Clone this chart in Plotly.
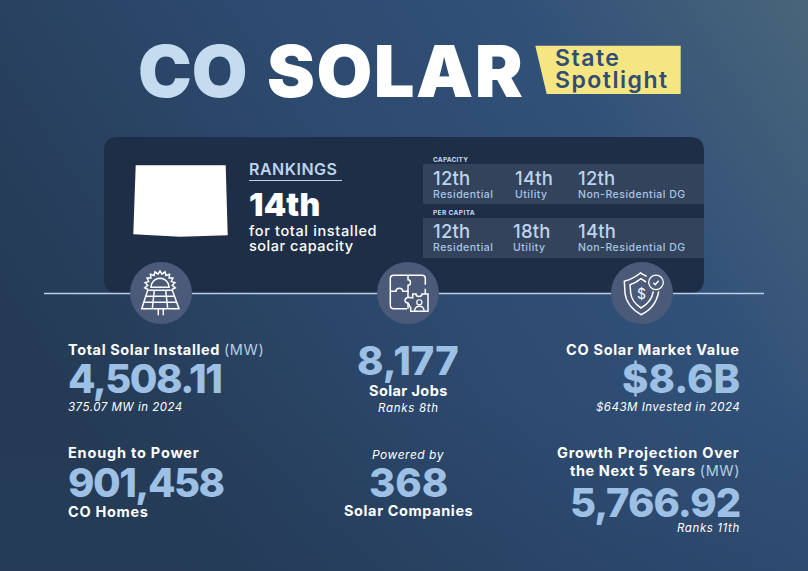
import base64
import math
import re
import plotly.graph_objects as go

FONT = "Inter"

title_words = ["CO", "SOLAR"]
badge_lines = ["State", "Spotlight"]

overall_rank = "14th"
overall_lines = ["for total installed", "solar capacity"]

rank_groups = ["CAPACITY", "PER CAPITA"]
rank_sectors = ["Residential", "Utility", "Non-Residential DG"]
capacity_ranks = ["12th", "14th", "12th"]
per_capita_ranks = ["12th", "18th", "14th"]

installed_mw = "4,508.11"
installed_2024 = "375.07 MW in 2024"
homes_powered = "901,458"
solar_jobs = "8,177"
jobs_rank = "Ranks 8th"
companies = "368"
market_value = "$8.6B"
invested_2024 = "$643M Invested in 2024"
projection_mw = "5,766.92"
projection_rank = "Ranks 11th"

NAVY = "#1f2e47"
ROW = "#33435c"
BADGE = "#f5e583"
BADGE_TEXT = "#2f4d75"
PALE = "#c5dbf0"
RANK_BLUE = "#bcd4ec"
VALUE_BLUE = "#9dc0e4"
CIRCLE = "#4a5a78"
MW = '<span style="font-weight:400;fill:#b9cde3">(MW)</span>'

# background is two stacked svg gradients, stretched over the whole page
bg_svg = """<svg xmlns="http://www.w3.org/2000/svg" width="808" height="571">
<defs>
<linearGradient id="a" x1="0" y1="0.5" x2="1" y2="0.05">
<stop offset="0" stop-color="#253b55"/><stop offset="0.45" stop-color="#2d4a70"/>
<stop offset="0.72" stop-color="#325178"/><stop offset="1" stop-color="#47647a"/>
</linearGradient>
<linearGradient id="b" x1="0.5" y1="0.7" x2="0.5" y2="1">
<stop offset="0" stop-color="#233a5a" stop-opacity="0"/><stop offset="1" stop-color="#233a5a" stop-opacity="0.25"/>
</linearGradient>
</defs>
<rect width="808" height="571" fill="url(#a)"/><rect width="808" height="571" fill="url(#b)"/>
</svg>"""
bg_uri = "data:image/svg+xml;base64," + base64.b64encode(bg_svg.encode()).decode()

fig = go.Figure()


def label(x, y, text, size, color="white", weight=700, anchor="left", style="normal", track=0):
    # Inter runs narrower than the original face, track tweaks each string to the right width
    if track:
        text = f'<span style="letter-spacing:{track}px">{text}</span>'
    nudge = {"left": -1, "right": 1, "center": 0}[anchor]
    fig.add_annotation(x=x + nudge, y=y, text=text, showarrow=False, xanchor=anchor, yanchor="middle",
                       align=anchor, borderpad=0,
                       font=dict(family=FONT, size=size, color=color, weight=weight, style=style))


def shape_path(d, fill="rgba(0,0,0,0)", line="white", width=1.5):
    fig.add_shape(type="path", path=d, xref="x", yref="y", fillcolor=fill,
                  line=dict(color=line, width=width))


def icon_path(d, ox, oy, **kw):
    nums = iter(range(10000))

    def conv(m):
        v = float(m.group(0))
        return f"{(ox if next(nums) % 2 == 0 else oy) + v / 3:.1f}"
    shape_path(re.sub(r"-?\d+\.?\d*", conv, d), **kw)


def circle(cx, cy, r, fill="rgba(0,0,0,0)", line=None, width=0):
    fig.add_shape(type="circle", x0=cx - r, x1=cx + r, y0=cy - r, y1=cy + r, fillcolor=fill,
                  line=dict(color=line or fill, width=width))


def rrect(x0, y0, x1, y1, r):
    return (f"M {x0+r} {y0} L {x1-r} {y0} Q {x1} {y0} {x1} {y0+r} L {x1} {y1-r} Q {x1} {y1} {x1-r} {y1} "
            f"L {x0+r} {y1} Q {x0} {y1} {x0} {y1-r} L {x0} {y0+r} Q {x0} {y0} {x0+r} {y0} Z")


def arc(cx, cy, r, a0, a1, n=12):
    pts = [(cx + r * math.cos(math.radians(a0 + (a1 - a0) * i / n)),
            cy + r * math.sin(math.radians(a0 + (a1 - a0) * i / n))) for i in range(n + 1)]
    return "M " + " L ".join(f"{x:.1f} {y:.1f}" for x, y in pts)


def teeth(cx, cy, r0, r1, a0, a1, n):
    pts = []
    for i in range(2 * n + 1):
        r = r1 if i % 2 else r0
        a = math.radians(a0 + (a1 - a0) * i / (2 * n))
        pts.append((cx + r * math.cos(a), cy + r * math.sin(a)))
    return "M " + " L ".join(f"{x:.1f} {y:.1f}" for x, y in pts)


# title
label(138, 70, title_words[0], 72, PALE, 900, track=0)
label(524, 70, title_words[1], 72, "white", 900, "right", track=1.5)
shape_path("M 535.3 45.7 L 680.7 45.7 L 680.7 94 L 546.7 94 Z", fill=BADGE, line=BADGE, width=0)
label(555, 58, badge_lines[0], 23, BADGE_TEXT, 600, track=1.5)
label(555, 80, badge_lines[1], 23, BADGE_TEXT, 600, track=1.5)

# rankings panel
shape_path(rrect(104, 137, 704, 293, 14), fill=NAVY, line=NAVY, width=0)
shape_path("M 135.7 165.3 L 225.7 165.3 L 227.7 235.3 L 180 236.7 L 133.3 234.3 Z",
           fill="white", line="white", width=0)
label(249, 168.5, "RANKINGS", 16, RANK_BLUE, 600, track=0.5)
fig.add_shape(type="line", x0=249, x1=342, y0=180.5, y1=180.5, line=dict(color=RANK_BLUE, width=1))
label(249, 204, overall_rank, 32, "white", 900, track=0.2)
label(249, 230, overall_lines[0], 14.5, "white", 500, track=0.65)
label(249, 245, overall_lines[1], 14.5, "white", 500, track=0.5)

shape_path("M 423 164 L 704 164 L 704 204 L 423 204 Z", fill=ROW, line=ROW, width=0)
shape_path("M 423 218 L 704 218 L 704 258 L 423 258 Z", fill=ROW, line=ROW, width=0)
label(433, 159.5, rank_groups[0], 6.5, PALE, 700, track=0.2)
label(433, 212.5, rank_groups[1], 6.5, PALE, 700, track=0.4)
for ranks, y, xs in [(capacity_ranks, 178, [433, 515, 578]), (per_capita_ranks, 231, [433, 513, 578])]:
    for x, r, s in zip(xs, ranks, rank_sectors):
        label(x, y, r, 18.5, RANK_BLUE, 500, track=0.2)
        label(x, y + 16, s, 10.5, "#a9c5e4", 500, track=0.5)

# divider with the icon circles on top
fig.add_shape(type="line", x0=44, x1=764, y0=293.5, y1=293.5, line=dict(color="#b8cfe6", width=1.5))
for cx, cy in [(161, 293), (408, 293), (642, 293)]:
    circle(cx, cy, 31, fill=CIRCLE)

# solar panel icon
o = (125, 258)
icon_path(arc(105, 88, 27, 180, 360) + " Z", *o)
icon_path(teeth(105, 85, 37, 46, 165, 375, 11), *o)
icon_path("M 68 97 L 142 97 L 162 152 L 50 152 Z", *o, fill=CIRCLE)
icon_path("M 62 115 L 150 115 M 56 133 L 156 133 M 88 97 L 82 152 M 122 97 L 128 152", *o)
icon_path("M 100 152 L 100 172 M 115 152 L 115 172", *o)

# puzzle icon
o = (372, 258)
icon_path("M 108 52 L 65 52 C 58 52 55 56 55 62 L 55 140 C 55 148 60 152 65 152 L 105 152", *o)
icon_path("M 108 52 L 150 52 C 157 52 160 56 160 62 L 160 80 M 160 92 L 160 108", *o)
icon_path("M 108 52 L 108 65 C 118 65 118 82 108 82 L 108 100 L 92 100 C 92 88 72 88 72 100 L 55 100", *o)
icon_path("M 108 100 L 108 118 M 108 135 L 108 152", *o)
icon_path("M 122 108 L 122 120 L 108 118 C 96 122 96 134 108 135 L 116 150 L 116 160 L 168 160 "
          "L 168 108 L 150 108 C 150 118 132 118 132 108 Z", *o)
circle(372 + 142 / 3, 258 + 133 / 3, 2.6, line="white", width=1.2)
icon_path("M 128 158 C 128 140 156 140 156 158", *o)

# shield icon
o = (606, 258)
icon_path("M 122 55 L 103 45 C 88 58 72 65 55 70 L 57 105 C 60 135 85 158 105 170 C 130 158 152 135 158 100", *o)
icon_path("M 120 72 L 105 62 C 93 72 83 77 72 80 L 74 105 C 76 125 90 140 105 150 C 122 140 138 125 142 100", *o)
circle(606 + 150 / 3, 258 + 73 / 3, 7.3, fill=CIRCLE, line="white", width=1.3)
icon_path("M 142 74 L 148 80 L 158 68", *o)
label(641, 293.5, "$", 14, "white", 400, "center")

# left column
label(68, 349, f"Total Solar Installed {MW}", 14.5, track=0.6)
label(68, 378, installed_mw, 40, VALUE_BLUE, 800, track=-1.5)
label(68, 407, installed_2024, 11.5, "white", 400, style="italic", track=0.5)
label(68, 452, "Enough to Power", 14.5, track=0.8)
label(68, 482, homes_powered, 40, VALUE_BLUE, 800, track=-1.5)
label(68, 511, "CO Homes", 14.5, track=0.7)

# middle column
label(408, 360, solar_jobs, 40, VALUE_BLUE, 800, "center")
label(408, 390, "Solar Jobs", 14.5, anchor="center", track=0.4)
label(408, 408, jobs_rank, 11.5, "white", 400, "center", "italic", track=0.7)
label(408, 454, "Powered by", 12, "white", 400, "center", "italic", track=0.5)
label(408, 482, companies, 40, VALUE_BLUE, 800, "center")
label(408, 510, "Solar Companies", 14.5, anchor="center", track=0.6)

# right column
label(740, 349, "CO Solar Market Value", 14.5, anchor="right", track=0.7)
label(740, 378, market_value, 40, VALUE_BLUE, 800, "right")
label(740, 407, invested_2024, 11.5, "white", 400, "right", "italic", track=0.5)
label(740, 452, "Growth Projection Over", 14.5, anchor="right", track=0.8)
label(740, 470, f"the Next 5 Years {MW}", 14.5, anchor="right", track=0.6)
label(740, 502, projection_mw, 40, VALUE_BLUE, 800, "right", track=-1)
label(740, 528, projection_rank, 11.5, "white", 400, "right", "italic", track=0.6)

fig.update_layout(
    width=808, height=571, margin=dict(l=0, r=0, t=0, b=0),
    paper_bgcolor="#2d4a70", plot_bgcolor="rgba(0,0,0,0)", showlegend=False,
    xaxis=dict(visible=False, range=[0, 808], fixedrange=True),
    yaxis=dict(visible=False, range=[571, 0], fixedrange=True),
    images=[dict(source=bg_uri, xref="x", yref="y", x=0, y=0, sizex=808, sizey=571,
                 sizing="stretch", layer="below", xanchor="left", yanchor="top")],
)

fig.write_html("out.html", post_script="document.body.style.margin='0';", config={"displayModeBar": False})
